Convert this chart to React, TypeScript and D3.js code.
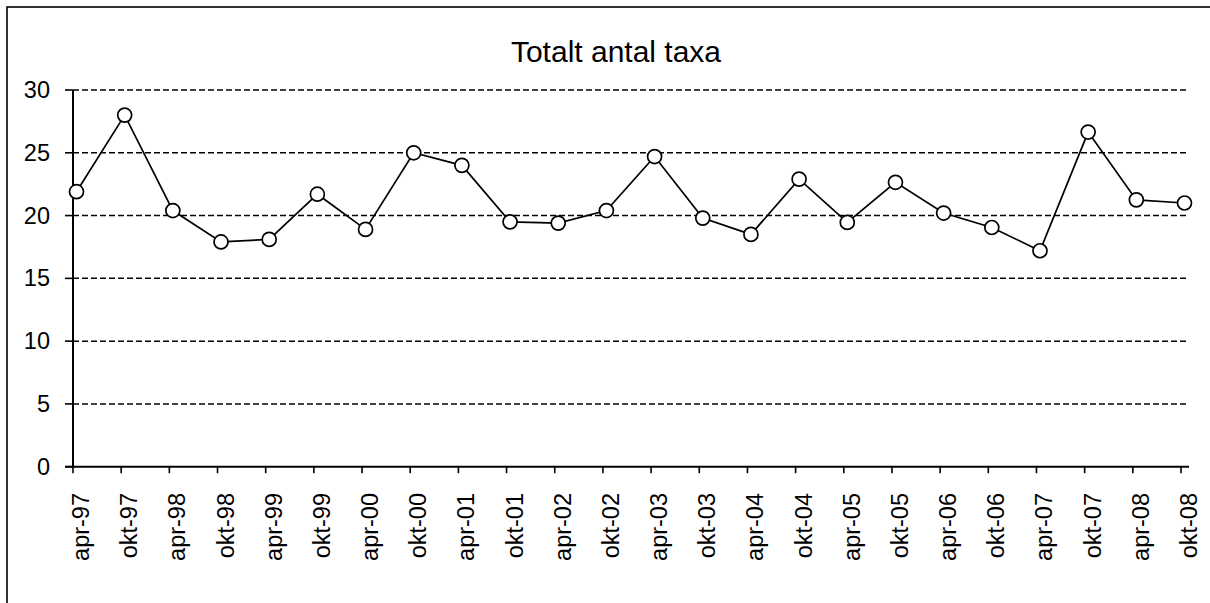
import React from "react";
import * as d3 from "d3";

const categories = [
  "apr-97", "okt-97", "apr-98", "okt-98", "apr-99", "okt-99",
  "apr-00", "okt-00", "apr-01", "okt-01", "apr-02", "okt-02",
  "apr-03", "okt-03", "apr-04", "okt-04", "apr-05", "okt-05",
  "apr-06", "okt-06", "apr-07", "okt-07", "apr-08", "okt-08",
];

const values = [
  21.9, 28.0, 20.4, 17.9, 18.1, 21.7,
  18.9, 25.0, 24.0, 19.5, 19.4, 20.4,
  24.7, 19.8, 18.5, 22.9, 19.45, 22.65,
  20.2, 19.05, 17.2, 26.65, 21.25, 21.0,
];

const yTicks = [0, 5, 10, 15, 20, 25, 30];
const title = "Totalt antal taxa";

const W = 1210;
const H = 603;
const FONT = "'Liberation Sans', Arial, Helvetica, sans-serif";

export default function App() {
  const plotLeft = 73;
  const plotRight = 1189;
  const x = d3.scalePoint<string>().domain(categories).range([73, 1181]);
  const y = d3.scaleLinear().domain([0, 30]).range([466.7, 90]);
  const pointOffset = 3.5;

  const line = d3
    .line<number>()
    .x((_, i) => (x(categories[i]) as number) + pointOffset)
    .y((d) => y(d));

  return (
    <svg
      width={W}
      height={H}
      style={{ position: "absolute", left: 0, top: 0, background: "#fff" }}
    >
      {/* frame */}
      <rect x={7} y={7} width={W + 20} height={H + 20} fill="#fff" stroke="#000" strokeWidth={1.6} />

      {/* title */}
      <text x={616} y={62} textAnchor="middle" fontFamily={FONT} fontSize={30} fill="#000">
        {title}
      </text>

      {/* gridlines */}
      {yTicks.filter((t) => t > 0).map((t) => (
        <line
          key={"g" + t}
          x1={plotLeft}
          x2={plotRight}
          y1={y(t)}
          y2={y(t)}
          stroke="#000"
          strokeWidth={1.5}
          strokeDasharray="6,3"
        />
      ))}

      {/* y axis */}
      <line x1={plotLeft} x2={plotLeft} y1={y(30)} y2={y(0)} stroke="#000" strokeWidth={2} />
      {yTicks.map((t) => (
        <g key={"yt" + t}>
          <line x1={65} x2={plotLeft} y1={y(t)} y2={y(t)} stroke="#000" strokeWidth={1.6} />
          <text
            x={50}
            y={y(t)}
            textAnchor="end"
            dominantBaseline="central"
            fontFamily={FONT}
            fontSize={23.5}
            fill="#000"
          >
            {t}
          </text>
        </g>
      ))}

      {/* x axis */}
      <line x1={65} x2={plotRight} y1={y(0)} y2={y(0)} stroke="#000" strokeWidth={2} />
      {categories.map((c) => {
        const cx = x(c) as number;
        return (
          <g key={"xt" + c}>
            <line x1={cx} x2={cx} y1={y(0)} y2={y(0) + 6.5} stroke="#000" strokeWidth={1.6} />
            <text
              transform={`translate(${cx + 8},${493}) rotate(-90)`}
              textAnchor="end"
              dominantBaseline="central"
              fontFamily={FONT}
              fontSize={23.5}
              fill="#000"
            >
              {c}
            </text>
          </g>
        );
      })}

      {/* series */}
      <path d={line(values) || ""} fill="none" stroke="#000" strokeWidth={1.7} />
      {values.map((v, i) => (
        <circle
          key={"p" + i}
          cx={(x(categories[i]) as number) + pointOffset}
          cy={y(v)}
          r={7}
          fill="#fff"
          stroke="#000"
          strokeWidth={1.7}
        />
      ))}
    </svg>
  );
}
